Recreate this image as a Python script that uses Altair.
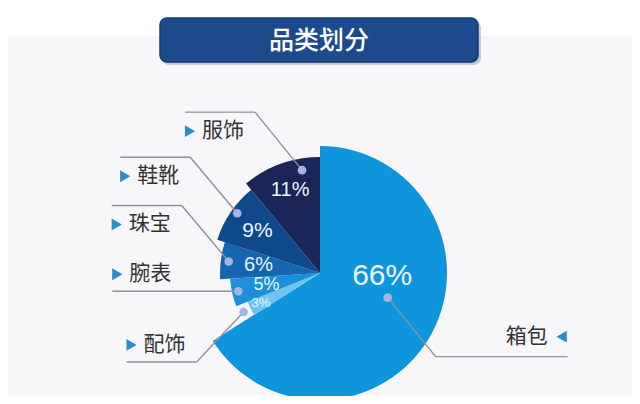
import math
import altair as alt
import pandas as pd

# ---- data -------------------------------------------------------------
categories = ["箱包", "配饰", "腕表", "珠宝", "鞋靴", "服饰"]
shares = [66, 3, 5, 6, 9, 11]
pct_labels = ["66%", "3%", "5%", "6%", "9%", "11%"]
title_text = "品类划分"

# ---- style ------------------------------------------------------------
colors = ["#0f95dc", "#70c4f0", "#1b8fd9", "#1565b0", "#0e4a8b", "#1b2557"]
radii = [127, 78, 90, 100, 108, 116]          # outer radius of each slice (px)
pct_sizes = [30, 13, 18, 20, 21, 20]
pct_rfrac = [0.49, 0.85, 0.61, 0.62, 0.70, 0.76]
pct_afrac = [0.39, 0.5, 0.5, 0.5, 0.5, 0.5]
dot_rfrac = [0.567, 1.10, 0.93, 0.92, 0.945, 0.90]
dot_afrac = [0.463, 0.5, 0.5, 0.5, 0.55, 0.75]
# leader-line style: (dx to elbow, dy to elbow, horizontal length, text side)
leader = [(48, 59, 132, "above"), (-47, 50, 70, "above"), (0, 0, 126, "above"),
          (-47, -56, 70, "below"), (-47, -56, 70, "below"), (-47, -58, 70, "below")]

OFF = 8
CX, CY = 320 - OFF, 273 - OFF
W, H = 624, 388
RMAX = 130

# ---- geometry derived from the data ------------------------------------
def polar(angle_deg, r):
    a = math.radians(angle_deg)
    return CX + r * math.sin(a), CY - r * math.cos(a)

total = sum(shares)
cum_start, cum_end = [], []
cum = 0
for s in shares:
    cum_start.append(cum)
    cum += s
    cum_end.append(cum)
starts = [v / total * 360 for v in cum_start]
ends = [v / total * 360 for v in cum_end]

slices = pd.DataFrame({"cat": categories, "share": shares,
                       "s0": cum_start, "s1": cum_end, "r": radii})

pct_rows, dot_rows, seg_rows, tri_rows, lab_rows = [], [], [], [], []
for i, c in enumerate(categories):
    a0, a1 = starts[i], ends[i]
    px, py = polar(a0 + pct_afrac[i] * (a1 - a0), pct_rfrac[i] * radii[i])
    pct_rows.append({"x": px, "y": py, "t": pct_labels[i], "fs": pct_sizes[i]})
    dx, dy = polar(a0 + dot_afrac[i] * (a1 - a0), dot_rfrac[i] * radii[i])
    dot_rows.append({"x": dx, "y": dy})
    ex, ey = dx + leader[i][0], dy + leader[i][1]
    seg_rows.append({"x": dx, "y": dy, "x2": ex, "y2": ey})
    length = leader[i][2]
    if leader[i][0] > 0:       # label on the right
        endx = ex + length
        seg_rows.append({"x": ex, "y": ey, "x2": endx, "y2": ey})
        ty = ey - 20
        tri_rows.append({"x": endx - 6, "y": ty, "shape": "triangle-left"})
        lab_rows.append({"x": endx - 20, "y": ty, "t": c, "align": "right"})
    else:
        endx = ex - length
        seg_rows.append({"x": ex, "y": ey, "x2": endx, "y2": ey})
        ty = ey - 17 if leader[i][3] == "above" else ey + 19
        tri_rows.append({"x": endx + 5, "y": ty, "shape": "triangle-right"})
        lab_rows.append({"x": endx + 17, "y": ty, "t": c, "align": "left"})

pct_df = pd.DataFrame(pct_rows)
dot_df = pd.DataFrame(dot_rows)
seg_df = pd.DataFrame(seg_rows)
tri_df = pd.DataFrame(tri_rows)
lab_df = pd.DataFrame(lab_rows)

X = lambda f: alt.X(f, scale=None, axis=None)
Y = lambda f: alt.Y(f, scale=None, axis=None)

one = pd.DataFrame({"k": [0]})

top_band = alt.Chart(one).mark_rect(color="#ffffff").encode(
    x=alt.value(0), x2=alt.value(W), y=alt.value(0), y2=alt.value(36 - OFF))

shadow = alt.Chart(one).mark_rect(color="#8a8f99", opacity=0.45, cornerRadius=7).encode(
    x=alt.value(162 - OFF), x2=alt.value(481 - OFF), y=alt.value(21 - OFF), y2=alt.value(65 - OFF))
box = alt.Chart(one).mark_rect(color="#1d4a8d", stroke="#163a72", strokeWidth=1.5,
                               cornerRadius=7).encode(
    x=alt.value(160 - OFF), x2=alt.value(478 - OFF), y=alt.value(18 - OFF), y2=alt.value(62 - OFF))
title = alt.Chart(one).mark_text(text=title_text, color="#ffffff", fontSize=25,
                                 font="Noto Sans CJK SC", fontWeight=500).encode(
    x=alt.value(319 - OFF), y=alt.value(41 - OFF))

arcs = alt.Chart(slices).mark_arc().encode(
    theta=alt.Theta("s0:Q", scale=alt.Scale(domain=[0, total], range=[0, 2 * math.pi])),
    theta2="s1:Q",
    radius=alt.Radius("r:Q", scale=alt.Scale(type="linear", domain=[0, RMAX], range=[0, RMAX], zero=True)),
    color=alt.Color("cat:N", scale=alt.Scale(domain=categories, range=colors), legend=None),
    x=alt.value(CX), y=alt.value(CY),
)

segs = alt.Chart(seg_df).mark_rule(color="#8c939c", strokeWidth=1.4).encode(
    x=X("x:Q"), y=Y("y:Q"), x2="x2:Q", y2="y2:Q")

dots = alt.Chart(dot_df).mark_circle(color="#a9b3df", opacity=1, size=75).encode(
    x=X("x:Q"), y=Y("y:Q"))

pcts = alt.Chart(pct_df).mark_text(color="#eaf7ff", font="Liberation Sans",
                                   baseline="middle", align="center").encode(
    x=X("x:Q"), y=Y("y:Q"), text="t:N", size=alt.Size("fs:Q", scale=None))

tris = alt.Chart(tri_df).mark_point(filled=True, color="#2b8fc5", opacity=1).encode(
    x=X("x:Q"), y=Y("y:Q"),
    shape=alt.Shape("shape:N", scale=None),
    size=alt.value(140))

labs_l = alt.Chart(lab_df[lab_df["align"] == "left"]).mark_text(
    align="left", baseline="middle", fontSize=21, color="#333333", font="Noto Sans CJK SC").encode(
    x=X("x:Q"), y=Y("y:Q"), text="t:N")
labs_r = alt.Chart(lab_df[lab_df["align"] == "right"]).mark_text(
    align="right", baseline="middle", fontSize=21, color="#333333", font="Noto Sans CJK SC").encode(
    x=X("x:Q"), y=Y("y:Q"), text="t:N")

chart = alt.layer(top_band, shadow, box, title, arcs, segs, dots, pcts, tris, labs_l, labs_r).properties(
    width=W, height=H, background="#f7f7f9", padding=0,
    autosize=alt.AutoSizeParams(type="none"),
).configure_view(stroke=None)

chart.save("out.html", embed_options={"renderer": "svg", "actions": False})
